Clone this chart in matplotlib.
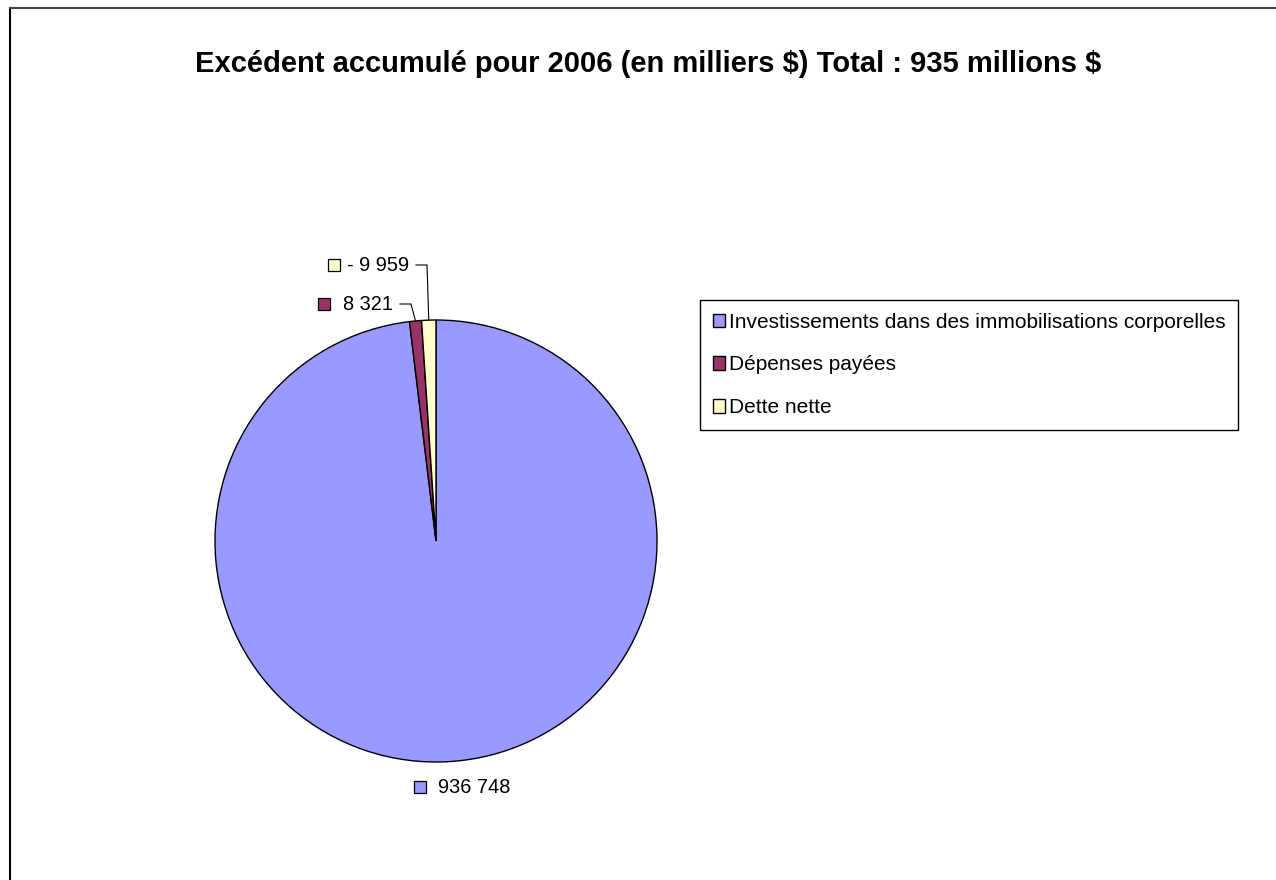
import matplotlib
matplotlib.use('Agg')
import matplotlib.pyplot as plt
from matplotlib.lines import Line2D
import numpy as np

plt.rcParams['font.family'] = ['Liberation Sans', 'DejaVu Sans']

# surplus for 2006, thousands of dollars
categories = ['Investissements dans des immobilisations corporelles',
              'Dépenses payées',
              'Dette nette']
values = [936748, 8321, -9959]
colors = ['#9999FF', '#993366', '#FFFFCC']

W, H = 1276, 880
fig = plt.figure(figsize=(W / 100, H / 100), dpi=100)


def fx(px):
    return px / W


def fy(py):
    return 1 - py / H


# outer frame (left and top edges only are visible)
fig.add_artist(Line2D([fx(10), fx(10)], [fy(8), 0], color='black', lw=1.5))
fig.add_artist(Line2D([fx(10), 1], [fy(8), fy(8)], color='#444444', lw=1.5))

fig.text(fx(648), fy(72), 'Excédent accumulé pour 2006 (en milliers \\$) Total : 935 millions \\$',
         ha='center', va='baseline', fontsize=21, fontweight='bold')

# pie: centre (436, 541), radius 221 px
cx, cy, r = 436, 541, 221
ax = fig.add_axes([fx(cx - r), fy(cy + r), 2 * r / W, 2 * r / H])
wedges, _ = ax.pie(np.abs(values), colors=colors, startangle=90, counterclock=False,
                   radius=1, wedgeprops=dict(edgecolor='black', linewidth=1))
ax.set_xlim(-1, 1)
ax.set_ylim(-1, 1)
ax.set_aspect('equal')
ax.axis('off')


def to_data(px, py):
    return (px - cx) / r, (cy - py) / r


def fmt(v):
    s = '{:,}'.format(abs(v)).replace(',', ' ')
    return ('- ' if v < 0 else '') + s


# label layout: marker x, text x, y, start of leader line (None = no leader)
label_pos = [(420, 438, 787, None),
             (324, 343, 304, 400),
             (334, 347, 265, 416)]

for w, v, c, (mx, tx, ty, lead) in zip(wedges, values, colors, label_pos):
    x0, y0 = to_data(mx, ty)
    ax.plot([x0], [y0], marker='s', markersize=8.5, markerfacecolor=c,
            markeredgecolor='black', markeredgewidth=0.9, clip_on=False)
    x1, y1 = to_data(tx, ty)
    ax.text(x1, y1, fmt(v), ha='left', va='center', fontsize=14.4, clip_on=False)
    if lead is not None:
        mid = np.deg2rad((w.theta1 + w.theta2) / 2)
        ex, ey = np.cos(mid), np.sin(mid)
        lx, ly = to_data(lead, ty)
        kx, _ = to_data(lead + 11, ty)
        ax.plot([lx, kx, ex], [ly, ly, ey], color='black', lw=0.8, clip_on=False)

leg = fig.legend(wedges, categories, loc='upper left',
                 bbox_to_anchor=(fx(700), fy(300)), fontsize=15,
                 frameon=True, fancybox=False, framealpha=1, edgecolor='black',
                 handlelength=0.6, handleheight=0.6, handletextpad=0.2,
                 labelspacing=1.15, borderpad=0.6, borderaxespad=0)
leg.get_frame().set_linewidth(1)

fig.savefig('out.png', dpi=100)
